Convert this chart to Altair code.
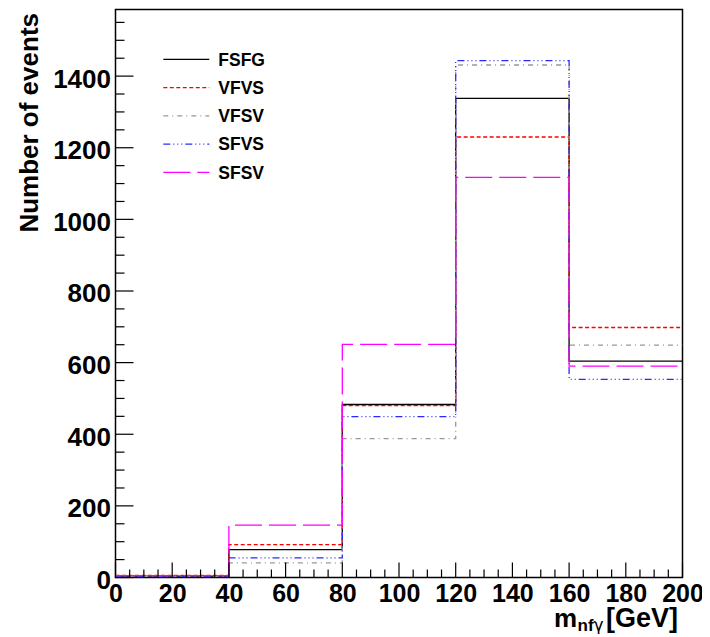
import altair as alt
import pandas as pd

# ---- data ----
bin_edges = [0, 40, 80, 120, 160, 200]
series = ["FSFG", "VFVS", "VFSV", "SFVS", "SFSV"]
fsfg = [4, 78, 483, 1338, 604]
vfvs = [6, 92, 480, 1230, 698]
vfsv = [3, 41, 388, 1431, 649]
sfvs = [2, 55, 449, 1443, 553]
sfsv = [5, 146, 651, 1117, 590]
values = [fsfg, vfvs, vfsv, sfvs, sfsv]

colors = ["#000000", "#ff0000", "#a0968e", "#2a2aff", "#ff00ff"]
dashes = [[1, 0], [4, 2.5], [5, 4, 1, 4], [7, 3, 1, 3, 1, 3, 1, 3], [27, 7]]

y_major = list(range(0, 1401, 200))
y_minor = [v for v in range(0, 1551, 50) if v % 200]
x_major = list(range(0, 201, 20))
x_minor = [v for v in range(0, 201, 5) if v % 20]

FONT = "Liberation Sans"
W, H = 567, 568

rows = []
for name, vals in zip(series, values):
    for i in range(len(vals)):
        rows.append({"series": name, "x": bin_edges[i], "y": vals[i]})
    rows.append({"series": name, "x": bin_edges[-1], "y": vals[-1]})
hist = pd.DataFrame(rows)

xscale = alt.Scale(domain=[0, 200], nice=False, zero=False)
yscale = alt.Scale(domain=[0, 1586], nice=False)

xaxis = alt.Axis(values=x_major, format="d", title=None, domain=False, ticks=False, grid=False,
                 labelFont=FONT, labelFontSize=25, labelFontWeight="bold",
                 labelColor="black", labelPadding=3.5, labelFlush=False, labelOverlap=False)
yaxis = alt.Axis(values=y_major, format="d", title=None, domain=False, ticks=False, grid=False,
                 labelFont=FONT, labelFontSize=26, labelFontWeight="bold",
                 labelColor="black", labelPadding=5, labelOffset=3,
                 labelFlush=False, labelOverlap=False)

lines = alt.Chart(hist).mark_line(interpolate="step-after", strokeWidth=1.3, clip=True).encode(
    x=alt.X("x:Q", scale=xscale, axis=xaxis),
    y=alt.Y("y:Q", scale=yscale, axis=yaxis),
    color=alt.Color("series:N", scale=alt.Scale(domain=series, range=colors), legend=None),
    strokeDash=alt.StrokeDash("series:N", scale=alt.Scale(domain=series, range=dashes), legend=None),
)

def yticks(vals, length):
    return alt.Chart(pd.DataFrame({"v": vals})).mark_rule(color="black", strokeWidth=1.2).encode(
        y=alt.Y("v:Q", scale=yscale, axis=yaxis), x=alt.value(0), x2=alt.value(length))

def xticks(vals, length):
    return alt.Chart(pd.DataFrame({"v": vals})).mark_rule(color="black", strokeWidth=1.2).encode(
        x=alt.X("v:Q", scale=xscale, axis=xaxis), y=alt.value(H), y2=alt.value(H - length))

one = pd.DataFrame({"a": [0]})

def label(text, x, y, size, align="left", angle=0, weight="bold", font=FONT):
    return alt.Chart(one).mark_text(
        text=text, align=align, baseline="alphabetic", angle=angle, font=font,
        fontSize=size, fontWeight=weight, color="black").encode(x=alt.value(x), y=alt.value(y))

layers = [lines, yticks(y_major, 18), yticks(y_minor, 9), xticks(x_major, 15), xticks(x_minor, 8)]

# legend (inside the frame, top left)
for i, (name, c, d) in enumerate(zip(series, colors, dashes)):
    ly = 49.8 + 28.25 * i
    layers.append(alt.Chart(one).mark_rule(color=c, strokeDash=d, strokeWidth=1.3).encode(
        x=alt.value(47.8), x2=alt.value(93.8), y=alt.value(ly)))
    layers.append(label(name, 102.8, ly + 6.3, 17.5))

# axis titles
layers.append(label("Number of events", -78, 3.5, 26, align="right", angle=270))
layers.append(label("m", 438.5, 617, 26))
layers.append(label("nf", 462, 621.5, 17))
layers.append(label("γ", 478, 621.5, 17, weight="normal", font="DejaVu Sans"))
layers.append(label("[GeV]", 562.5, 617, 27, align="right"))

chart = alt.layer(*layers).properties(
    width=W, height=H,
    autosize=alt.AutoSizeParams(type="none"),
    padding={"left": 107.5, "top": 1.5, "right": 19.5, "bottom": 56},
).configure_view(stroke="black", strokeWidth=1.5)

chart.save("out.html", embed_options={"renderer": "svg", "actions": False})
